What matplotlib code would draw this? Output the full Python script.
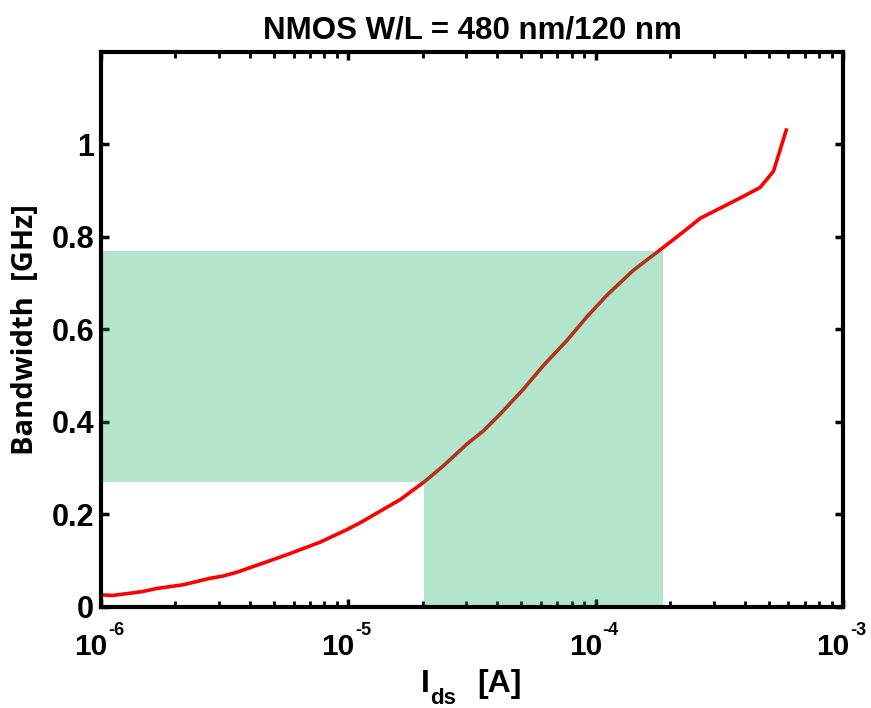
import numpy as np
import matplotlib
matplotlib.use('Agg')
import matplotlib.pyplot as plt
from matplotlib.ticker import LogLocator, FixedLocator, FuncFormatter, NullFormatter

plt.rcParams['font.family'] = 'Liberation Sans'
plt.rcParams['font.weight'] = 'bold'

# drain current [A] and bandwidth [GHz] of the sweep
ids = [1.006e-6, 1.118e-6, 1.46e-6, 1.68e-6, 2.15e-6, 2.76e-6, 3.12e-6, 3.54e-6,
       4.0e-6, 4.53e-6, 5.64e-6, 7.68e-6, 9.85e-6, 1.115e-5, 1.343e-5, 1.618e-5,
       2.02e-5, 2.42e-5, 3.01e-5, 3.52e-5, 4.11e-5, 5.10e-5, 6.14e-5, 7.64e-5,
       9.20e-5, 1.109e-4, 1.42e-4, 1.82e-4, 2.26e-4, 2.64e-4, 3.96e-4, 4.62e-4,
       5.23e-4, 5.89e-4]
bw = [0.026, 0.025, 0.033, 0.040, 0.048, 0.062, 0.067, 0.075,
      0.085, 0.095, 0.113, 0.140, 0.167, 0.182, 0.207, 0.232,
      0.270, 0.305, 0.352, 0.381, 0.417, 0.471, 0.522, 0.576,
      0.627, 0.674, 0.728, 0.772, 0.811, 0.840, 0.888, 0.907,
      0.942, 1.031]

# operating window
ids_lo, ids_hi = 2.02e-5, 1.87e-4
bw_lo, bw_hi = 0.27, 0.77
ids_min, ids_max = 1e-6, 1e-3

decades = [-6, -5, -4, -3]
bw_ticks = [0, 0.2, 0.4, 0.6, 0.8, 1.0]

fig = plt.figure(figsize=(8.71, 7.08), dpi=100)
ax = fig.add_axes([0.116, 0.1427, 0.852, 0.784])

ax.plot(ids, bw, color='#ff0000', lw=2.6, zorder=2)

win_x = [ids_min, ids_lo, ids_lo, ids_hi, ids_hi, ids_min]
win_y = [bw_lo, bw_lo, 0, 0, bw_hi, bw_hi]
ax.fill(win_x, win_y, color='#00ac55', alpha=0.3, lw=0, zorder=3)

ax.set_xscale('log')
ax.set_xlim(ids_min, ids_max)
ax.set_ylim(0, 1.2)

ax.xaxis.set_major_locator(FixedLocator([10.0 ** d for d in decades]))
ax.xaxis.set_minor_locator(LogLocator(base=10, subs=np.arange(2, 10), numticks=10))
ax.xaxis.set_major_formatter(NullFormatter())
ax.xaxis.set_minor_formatter(NullFormatter())
ax.yaxis.set_major_locator(FixedLocator(bw_ticks))
ax.yaxis.set_major_formatter(FuncFormatter(lambda v, p: '%g' % v))

ax.tick_params(which='both', direction='in', top=True, right=True, labelsize=22)
ax.tick_params(which='major', length=6, width=2.5)
ax.tick_params(axis='y', which='major', pad=5)
ax.tick_params(which='minor', length=4, width=2)

# decade labels: big "10" with a small raised exponent
for d in decades:
    xy = (10.0 ** d, 0)
    ax.annotate('10', xy=xy, xycoords=('data', 'axes fraction'),
                xytext=(4.5, -34.5), textcoords='offset points',
                ha='right', va='baseline', fontsize=21.5, fontweight='bold',
                annotation_clip=False)
    ax.annotate('%d' % d, xy=xy, xycoords=('data', 'axes fraction'),
                xytext=(5, -20), textcoords='offset points',
                ha='left', va='baseline', fontsize=13, fontweight='bold',
                annotation_clip=False)

for s in ax.spines.values():
    s.set_linewidth(3)
    s.set_zorder(3.5)

ax.set_title('NMOS W/L = 480 nm/120 nm', fontsize=22.5, fontweight='bold', pad=10)
ax.set_ylabel('Bandwidth  [GHz]', fontsize=21, fontweight='bold',
              family='Open Sans', labelpad=8)

# x label with a deep subscript
fig.text(421 / 871, 1 - 692 / 708, 'I', fontsize=23, fontweight='bold', va='baseline')
fig.text(430 / 871, 1 - 704 / 708, 'ds', fontsize=16, fontweight='bold', va='baseline')
fig.text(477 / 871, 1 - 692 / 708, '[A]', fontsize=23, fontweight='bold', va='baseline')

fig.savefig('out.png', dpi=100)
